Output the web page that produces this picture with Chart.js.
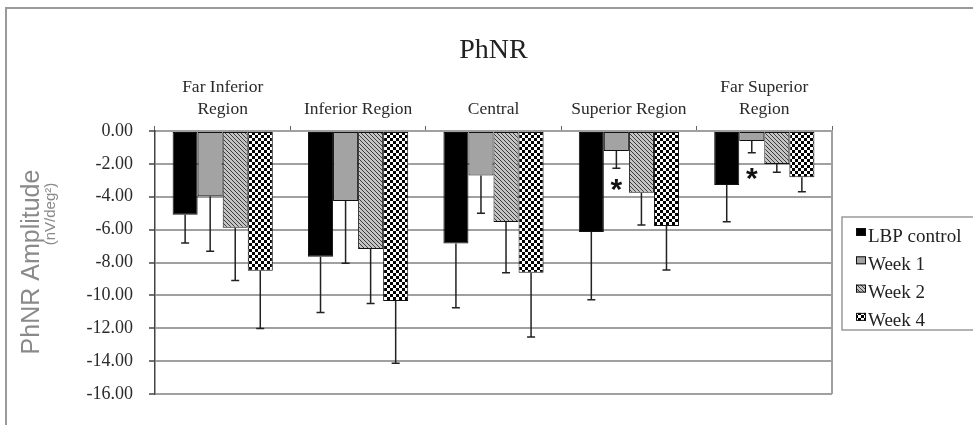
<!DOCTYPE html>
<html>
<head>
<meta charset="utf-8">
<script src="https://cdn.jsdelivr.net/npm/chart.js@4"></script>
<style>
  html, body { margin: 0; padding: 0; background: #fff; }
  #wrap { position: relative; width: 973px; height: 425px; overflow: hidden; }
  #chart { position: absolute; left: 0; top: 0; }
  #frame { position: absolute; left: 5px; top: 7px; right: -10px; bottom: -10px;
           border-left: 2px solid #9a9a9a; border-top: 2px solid #9a9a9a; pointer-events: none; }
</style>
</head>
<body>
<div id="wrap">
  <canvas id="chart" width="973" height="425"></canvas>
  <div id="frame"></div>
</div>
<script>
const REGIONS = [["Far Inferior", "Region"], "Inferior Region", "Central", "Superior Region", ["Far Superior", "Region"]];
const GROUPS = ["LBP control", "Week 1", "Week 2", "Week 4"];

const LBP_CONTROL = [-5.10, -7.65, -6.85, -6.15, -3.28];
const WEEK_1 = [-3.97, -4.26, -2.70, -1.22, -0.61];
const WEEK_2 = [-5.88, -7.18, -5.54, -3.75, -2.00];
const WEEK_4 = [-8.50, -10.34, -8.62, -5.78, -2.82];

const LBP_CONTROL_SD = [1.72, 3.39, 3.90, 4.12, 2.24];
const WEEK_1_SD = [3.35, 3.79, 2.31, 1.05, 0.71];
const WEEK_2_SD = [3.22, 3.32, 3.08, 1.97, 0.51];
const WEEK_4_SD = [3.52, 3.79, 3.91, 2.67, 0.87];

// asterisk under Week 1 bars (value where the * sits)
const WEEK_1_SIG = [null, null, null, -3.10, -2.45];

const Y_MIN = -16;
const Y_MAX = 0;
const Y_STEP = 2;

const SERIF = "'Liberation Serif', 'Times New Roman', serif";
const SANS = "'Liberation Sans', Arial, sans-serif";

function makePattern(size, draw) {
  const c = document.createElement("canvas");
  c.width = c.height = size;
  const g = c.getContext("2d");
  draw(g);
  return g.createPattern(c, "repeat");
}

const hatch = makePattern(4, g => {
  g.fillStyle = "#c4c4c4";
  g.fillRect(0, 0, 4, 4);
  g.fillStyle = "#3c3c3c";
  for (let i = 0; i < 4; i++) g.fillRect(i, i, 1, 1);
});

const checker = makePattern(6, g => {
  g.fillStyle = "#fff";
  g.fillRect(0, 0, 6, 6);
  g.fillStyle = "#000";
  g.fillRect(0, 0, 3, 3);
  g.fillRect(3, 3, 3, 3);
});

const FILLS = ["#000", "#a3a3a3", hatch, checker];
const VALUES = [LBP_CONTROL, WEEK_1, WEEK_2, WEEK_4];
const ERRORS = [LBP_CONTROL_SD, WEEK_1_SD, WEEK_2_SD, WEEK_4_SD];

const errorBars = {
  id: "errorBars",
  afterDatasetsDraw(chart) {
    const { ctx, scales: { y } } = chart;
    ctx.save();
    ctx.strokeStyle = "#222";
    ctx.lineWidth = 1.5;
    chart.data.datasets.forEach((ds, di) => {
      chart.getDatasetMeta(di).data.forEach((bar, i) => {
        const end = y.getPixelForValue(ds.data[i] - ERRORS[di][i]);
        ctx.beginPath();
        ctx.moveTo(bar.x, bar.y);
        ctx.lineTo(bar.x, end);
        ctx.moveTo(bar.x - 4, end);
        ctx.lineTo(bar.x + 4, end);
        ctx.stroke();
      });
    });
    // significance marks
    ctx.fillStyle = "#111";
    ctx.font = "bold 30px " + SANS;
    ctx.textAlign = "center";
    ctx.textBaseline = "alphabetic";
    const meta = chart.getDatasetMeta(1);
    WEEK_1_SIG.forEach((v, i) => {
      if (v == null) return;
      ctx.fillText("*", meta.data[i].x, y.getPixelForValue(v) + 17);
    });
    ctx.restore();
  },
};

const decorations = {
  id: "decorations",
  beforeDatasetsDraw(chart) {
    const { ctx, chartArea: { top, bottom, right } } = chart;
    ctx.save();
    ctx.strokeStyle = "#a0a0a0";
    ctx.lineWidth = 2;
    ctx.beginPath();
    ctx.moveTo(right, top);
    ctx.lineTo(right, bottom);
    ctx.stroke();
    ctx.restore();
  },
  afterDraw(chart) {
    const { ctx, chartArea: { left, right } } = chart;
    ctx.save();
    // title
    ctx.fillStyle = "#222";
    ctx.font = "28px " + SERIF;
    ctx.textAlign = "center";
    ctx.textBaseline = "alphabetic";
    ctx.fillText("PhNR", (left + right) / 2, 58);

    // y axis title
    ctx.fillStyle = "#8a8a8a";
    ctx.save();
    ctx.translate(39, 262);
    ctx.rotate(-Math.PI / 2);
    ctx.font = "25px " + SANS;
    ctx.fillText("PhNR Amplitude", 0, 0);
    ctx.restore();
    ctx.save();
    ctx.translate(55, 214);
    ctx.rotate(-Math.PI / 2);
    ctx.font = "15px " + SANS;
    ctx.fillText("(nV/deg\u00b2)", 0, 0);
    ctx.restore();

    // legend
    const bx = 842, by = 217, bw = 150, bh = 113;
    ctx.fillStyle = "#fff";
    ctx.fillRect(bx, by, bw, bh);
    ctx.strokeStyle = "#9a9a9a";
    ctx.lineWidth = 1.5;
    ctx.strokeRect(bx, by, bw, bh);
    ctx.font = "19px " + SERIF;
    ctx.textAlign = "left";
    chart.data.datasets.forEach((ds, i) => {
      const base = 241.5 + i * 28.3;
      ctx.fillStyle = ds.backgroundColor;
      ctx.fillRect(856, base - 13.5, 10, 8);
      ctx.strokeStyle = "#111";
      ctx.lineWidth = 1;
      ctx.strokeRect(856.5, base - 13, 9, 7);
      ctx.fillStyle = "#222";
      ctx.fillText(ds.label, 868, base);
    });
    ctx.restore();
  },
};

new Chart(document.getElementById("chart"), {
  type: "bar",
  data: {
    labels: REGIONS,
    datasets: GROUPS.map((g, i) => ({
      label: g,
      data: VALUES[i],
      backgroundColor: FILLS[i],
      borderColor: "#111",
      borderWidth: 1,
      borderSkipped: false,
      categoryPercentage: 0.74,
      barPercentage: 1,
    })),
  },
  options: {
    responsive: false,
    animation: false,
    layout: { padding: { left: 0, top: 0, right: 141, bottom: 31 } },
    plugins: {
      legend: { display: false },
      title: { display: false },
      tooltip: { enabled: false },
    },
    scales: {
      x: {
        position: "top",
        afterFit(scale) { scale.height = 131; },
        grid: { display: true, drawOnChartArea: false, offset: true, tickLength: 5, color: "#666", lineWidth: 1 },
        border: { display: true, color: "#a0a0a0", width: 2 },
        ticks: {
          color: "#2a2a2a",
          padding: 6,
          maxRotation: 0,
          autoSkip: false,
          font: { family: SERIF, size: 17.5, lineHeight: 1.26 },
        },
      },
      y: {
        min: Y_MIN,
        max: Y_MAX,
        afterFit(scale) { scale.width = 155; },
        grid: { color: "#a0a0a0", lineWidth: 2, tickLength: 6, tickColor: "#444", tickWidth: 1.5 },
        border: { display: true, color: "#444", width: 1.5 },
        ticks: {
          stepSize: Y_STEP,
          color: "#2a2a2a",
          padding: 16,
          font: { family: SERIF, size: 18 },
          callback: v => v.toFixed(2),
        },
      },
    },
  },
  plugins: [errorBars, decorations],
});
</script>
</body>
</html>
